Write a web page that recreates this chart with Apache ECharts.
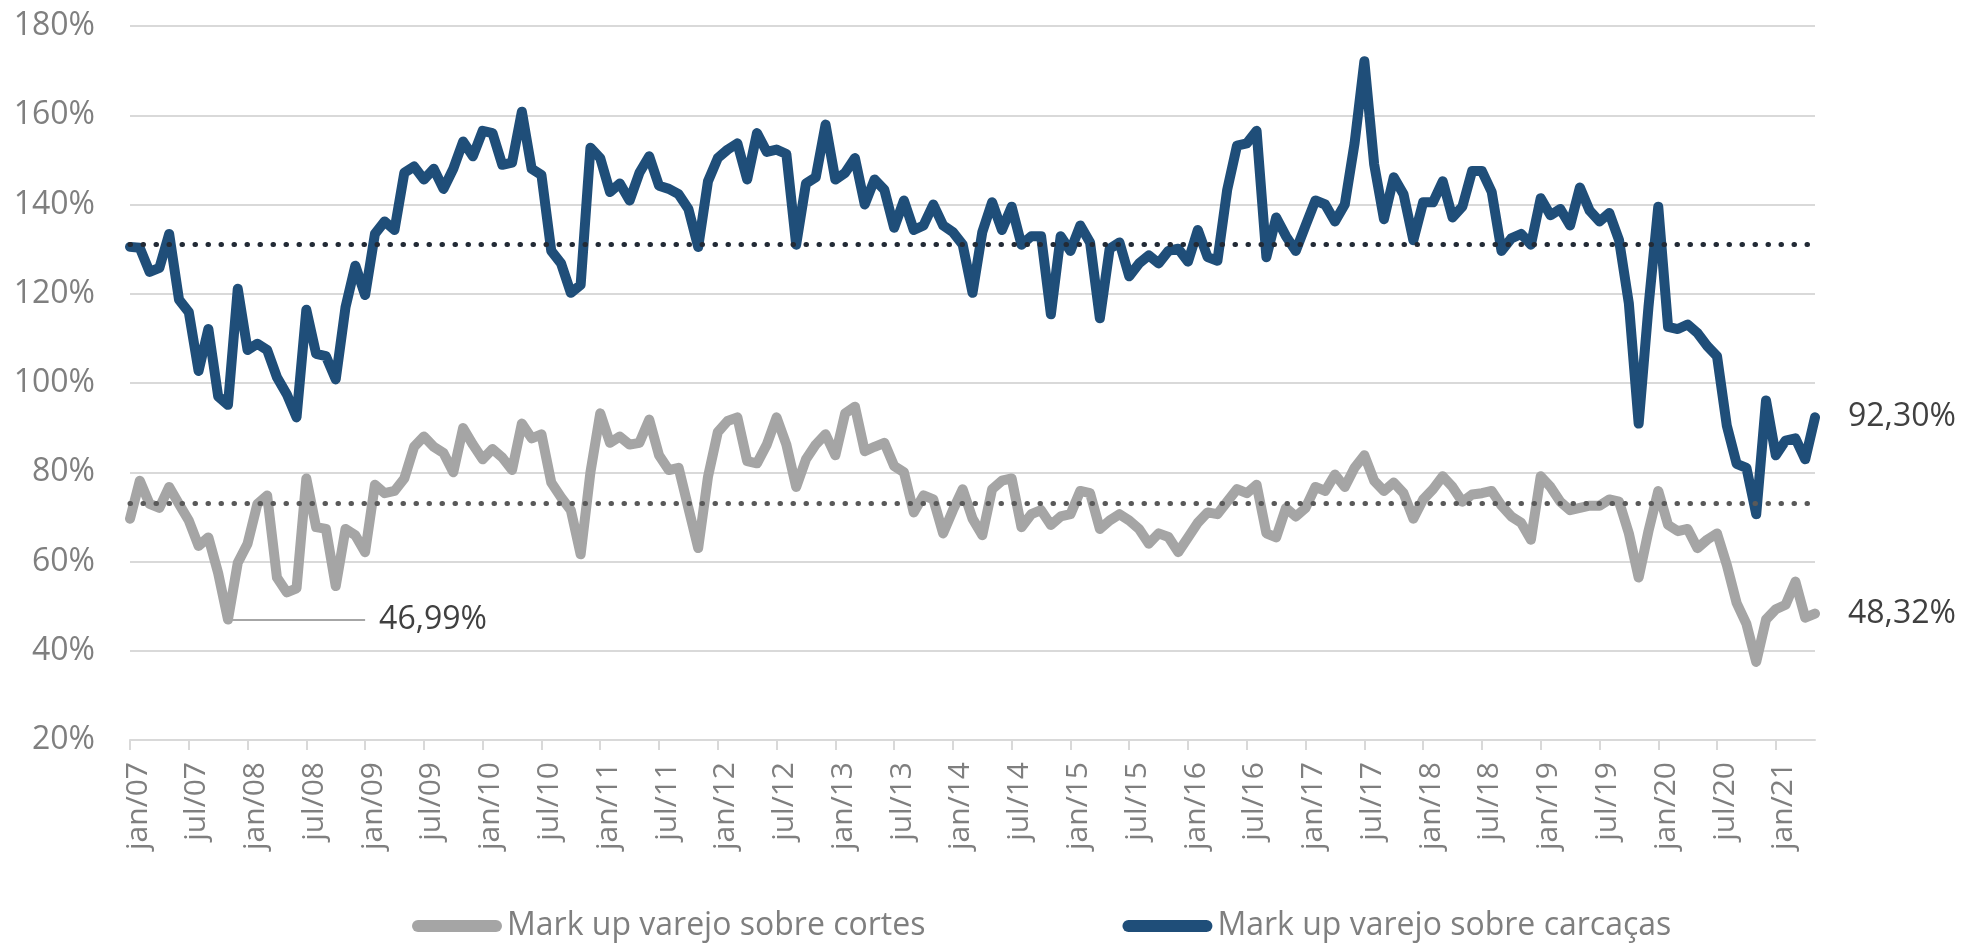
<!DOCTYPE html>
<html>
<head>
<meta charset="utf-8">
<script src="https://cdn.jsdelivr.net/npm/echarts@6/dist/echarts.min.js"></script>
<style>
  html, body { margin: 0; padding: 0; background: #fff; }
  #chart { width: 1969px; height: 943px; }
</style>
</head>
<body>
<div id="chart"></div>
<script>
// meses jan/07 .. mai/21
const monthNames = ['jan', 'fev', 'mar', 'abr', 'mai', 'jun', 'jul', 'ago', 'set', 'out', 'nov', 'dez'];
const firstYear = 2007;
const lastYear = 2021;
const lastMonth = 5;

// Mark up varejo sobre cortes (%)
const cortes = [
  69.6, 78.1, 72.9, 72.0, 76.7, 72.9, 69.2, 63.5, 65.4, 57.4, 46.99, 59.7,
  64.0, 72.9, 74.8, 56.4, 53.1, 54.0, 78.6, 67.7, 67.3, 54.5, 67.3, 65.9,
  62.1, 77.2, 75.3, 75.8, 78.6, 85.7, 88.0, 85.7, 84.3, 80.0, 89.9, 86.2,
  82.9, 85.2, 83.3, 80.5, 90.9, 87.6, 88.5, 77.7, 74.4, 71.5, 61.6, 80.0,
  93.2, 86.6, 88.0, 86.2, 86.6, 91.8, 83.8, 80.5, 81.0, 72.0, 63.0, 79.0,
  89.0, 91.5, 92.3, 82.5, 82.0, 86.2, 92.3, 86.2, 76.7, 82.9, 86.2, 88.5,
  83.8, 93.2, 94.7, 84.7, 85.7, 86.6, 81.4, 80.0, 71.0, 74.8, 73.9, 66.3,
  71.5, 76.2, 69.6, 65.9, 76.2, 78.1, 78.6, 67.7, 70.6, 71.5, 68.2, 70.1,
  70.6, 75.8, 75.3, 67.3, 69.2, 70.6, 69.2, 67.3, 64.0, 66.3, 65.5, 62.1,
  65.4, 68.7, 71.0, 70.6, 73.4, 76.2, 75.3, 77.2, 66.3, 65.4, 72.0, 70.1,
  72.0, 76.7, 75.8, 79.5, 76.7, 81.0, 83.8, 78.1, 75.8, 77.7, 75.3, 69.6,
  73.9, 76.2, 79.1, 76.7, 73.4, 75.0, 75.3, 75.8, 72.5, 70.1, 68.7, 64.9,
  79.1, 76.7, 73.4, 71.5, 72.0, 72.5, 72.5, 73.9, 73.4, 66.3, 56.4, 66.8,
  75.8, 68.2, 66.8, 67.3, 63.0, 64.9, 66.3, 59.2, 50.7, 46.0, 37.5, 47.0,
  49.3, 50.3, 55.5, 47.4, 48.32
];

// Mark up varejo sobre carcaças (%)
const carcacas = [
  130.5, 130.3, 124.9, 125.8, 133.4, 118.7, 115.9, 102.7, 112.1, 97.0, 95.1, 121.1,
  107.4, 108.8, 107.4, 101.3, 97.5, 92.3, 116.4, 106.5, 106.0, 100.8, 117.0, 126.3,
  119.7, 133.4, 136.2, 134.3, 147.1, 148.5, 145.6, 148.0, 143.5, 148.0, 154.1, 150.8,
  156.5, 156.0, 148.9, 149.4, 160.8, 148.0, 146.6, 129.6, 126.8, 120.2, 122.0, 152.7,
  150.4, 142.8, 144.7, 140.9, 147.1, 150.8, 144.2, 143.5, 142.3, 139.0, 130.5, 145.2,
  150.4, 152.3, 153.7, 145.6, 156.0, 151.8, 152.3, 151.3, 131.0, 144.7, 146.1, 157.9,
  145.6, 147.1, 150.4, 140.0, 145.6, 143.3, 134.8, 140.9, 134.3, 135.3, 140.0, 135.3,
  133.8, 131.0, 120.2, 133.8, 140.5, 134.3, 139.5, 131.0, 132.9, 132.9, 115.4, 132.9,
  129.6, 135.3, 131.5, 114.5, 130.1, 131.5, 123.9, 126.8, 128.6, 126.8, 129.6, 130.1,
  127.2, 134.3, 128.2, 127.4, 143.3, 153.2, 153.7, 156.5, 128.2, 137.1, 132.9, 129.6,
  135.3, 140.9, 140.0, 136.2, 140.0, 153.7, 172.1, 149.0, 136.7, 146.1, 142.3, 132.0,
  140.5, 140.5, 145.2, 137.1, 139.5, 147.5, 147.5, 142.8, 129.6, 132.4, 133.4, 131.0,
  141.4, 137.6, 139.0, 135.3, 143.8, 138.6, 136.2, 138.1, 132.0, 117.8, 90.9, 117.0,
  139.5, 112.6, 112.1, 113.1, 111.2, 108.3, 106.0, 90.4, 81.9, 81.0, 70.6, 96.1,
  83.8, 87.1, 87.6, 82.9, 92.3
];

// médias (linhas pontilhadas)
const mediaCortes = 73.0;
const mediaCarcacas = 131.2;

const yTicks = [20, 40, 60, 80, 100, 120, 140, 160, 180];

let categories = [];
for (let y = firstYear; y <= lastYear; y++) {
  for (let m = 0; m < 12; m++) {
    if (y === lastYear && m >= lastMonth) break;
    categories.push(monthNames[m] + '/' + String(y).slice(2));
  }
}

function pct(v) {
  return v.toFixed(2).replace('.', ',') + '%';
}

// ponto minimo destacado na serie de cortes
const minIdx = cortes.indexOf(Math.min.apply(null, cortes.slice(0, 24)));

const fontFamily = 'Open Sans';
const stadium = 'path://M6,0 L84,0 A6,6 0 0 1 84,12 L6,12 A6,6 0 0 1 6,0 Z';

var myChart = echarts.init(document.getElementById('chart'));
let options = {
  animation: false,
  textStyle: { fontFamily: fontFamily },
  grid: {
    left: 130,
    right: 154,
    top: 26,
    bottom: 203
  },
  legend: {
    left: 407,
    top: 905,
    itemWidth: 90,
    itemHeight: 12,
    itemGap: 197,
    icon: stadium,
    textStyle: { color: '#7f7f7f', fontSize: 32, fontFamily: fontFamily },
    data: ['Mark up varejo sobre cortes', 'Mark up varejo sobre carcaças']
  },
  xAxis: {
    type: 'category',
    boundaryGap: false,
    data: categories,
    axisLine: { lineStyle: { color: '#d9d9d9', width: 2 } },
    axisTick: { show: true, interval: 5, length: 10, lineStyle: { color: '#d9d9d9', width: 2 } },
    axisLabel: {
      interval: 5,
      rotate: 90,
      margin: 22,
      color: '#7f7f7f',
      fontSize: 30,
      verticalAlign: 'top',
      lineHeight: 16,
      fontFamily: fontFamily
    },
    splitLine: { show: false }
  },
  yAxis: {
    type: 'value',
    min: yTicks[0],
    max: yTicks[yTicks.length - 1],
    interval: 20,
    axisLine: { show: false },
    axisTick: { show: false },
    axisLabel: {
      formatter: '{value}%',
      color: '#7f7f7f',
      fontSize: 32,
      margin: 35,
      fontFamily: fontFamily
    },
    splitLine: { lineStyle: { color: '#d9d9d9', width: 2 } }
  },
  series: [
    {
      name: 'Mark up varejo sobre cortes',
      type: 'line',
      data: cortes,
      symbol: 'none',
      color: '#a5a5a5',
      lineStyle: { width: 10, color: '#a5a5a5', cap: 'round', join: 'round' },
      endLabel: {
        show: true,
        distance: 33,
        formatter: function (p) { return pct(p.value); },
        color: '#404040',
        fontSize: 32,
        fontFamily: fontFamily
      },
      markLine: {
        silent: true,
        symbol: 'none',
        data: [
          {
            yAxis: mediaCortes,
            lineStyle: { type: [0.5, 12.5], width: 5, cap: 'round', color: '#595959' },
            label: { show: false }
          },
          [
            { coord: [minIdx, cortes[minIdx]] },
            {
              coord: [24, cortes[minIdx]],
              lineStyle: { type: 'solid', width: 2, color: '#a6a6a6' },
              label: {
                show: true,
                position: 'end',
                distance: 14,
                formatter: pct(cortes[minIdx]),
                color: '#404040',
                fontSize: 32,
                fontFamily: fontFamily
              }
            }
          ]
        ]
      }
    },
    {
      name: 'Mark up varejo sobre carcaças',
      type: 'line',
      data: carcacas,
      symbol: 'none',
      color: '#1f4e79',
      lineStyle: { width: 10, color: '#1f4e79', cap: 'round', join: 'round' },
      endLabel: {
        show: true,
        distance: 33,
        formatter: function (p) { return pct(p.value); },
        color: '#404040',
        fontSize: 32,
        fontFamily: fontFamily
      },
      markLine: {
        silent: true,
        symbol: 'none',
        label: { show: false },
        lineStyle: { type: [0.5, 12.5], width: 5, cap: 'round', color: '#222a35' },
        data: [{ yAxis: mediaCarcacas }]
      }
    }
  ]
};
myChart.setOption(options);
window.addEventListener('resize', function () {
  myChart.resize();
});
</script>
</body>
</html>
